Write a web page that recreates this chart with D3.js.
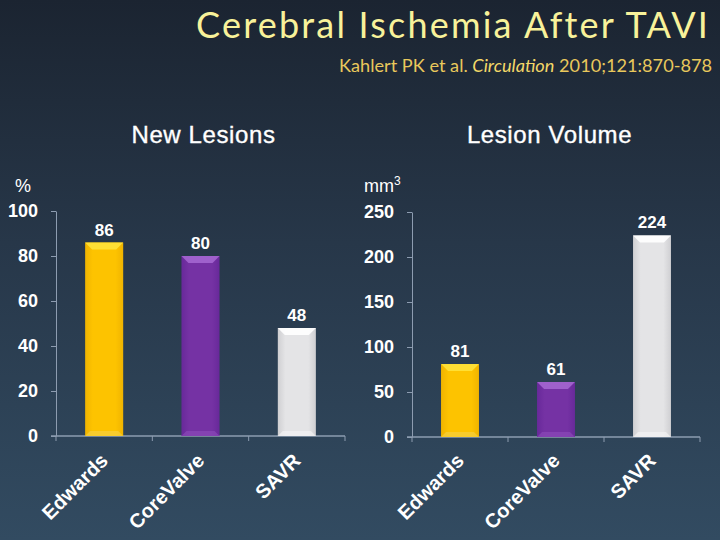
<!DOCTYPE html>
<html><head><meta charset="utf-8">
<script src="https://cdn.jsdelivr.net/npm/d3@7"></script>
<style>
html,body{margin:0;padding:0;background:#1c2532;}
svg{display:block;}
</style></head>
<body>
<svg id="chart" width="720" height="540"></svg>
<script>
// ---- data ----
const categories = ["Edwards", "CoreValve", "SAVR"];
const newLesions = [86, 80, 48];          // %
const lesionVolume = [81, 61, 224];       // mm3
const lesionTicks = [0, 20, 40, 60, 80, 100];
const volumeTicks = [0, 50, 100, 150, 200, 250];
const titleText = "Cerebral Ischemia After TAVI";
const panelTitles = ["New Lesions", "Lesion Volume"];

const svg = d3.select("#chart");
const defs = svg.append("defs");

// background
const bg = defs.append("linearGradient").attr("id","bg").attr("x1",0).attr("y1",0).attr("x2",0).attr("y2",1);
bg.append("stop").attr("offset","0%").attr("stop-color","#1b2431");
bg.append("stop").attr("offset","45%").attr("stop-color","#273749");
bg.append("stop").attr("offset","100%").attr("stop-color","#324b61");
svg.append("rect").attr("width",720).attr("height",540).attr("fill","url(#bg)");

// bar colour schemes
const barColors = [
  {id:"yel", main:"#fdc300", edge:"#f0b400", top:"#ffe23a", bot:"#f5d040"},
  {id:"pur", main:"#7532a4", edge:"#68299a", top:"#a466d0", bot:"#8a48b8"},
  {id:"sil", main:"#e4e4e6", edge:"#cfcfd2", top:"#ffffff", bot:"#f2f2f4"}
];
barColors.forEach(c=>{
  const g = defs.append("linearGradient").attr("id",c.id).attr("x1",0).attr("y1",0).attr("x2",1).attr("y2",0);
  g.append("stop").attr("offset","0%").attr("stop-color",c.edge);
  g.append("stop").attr("offset","20%").attr("stop-color",c.main);
  g.append("stop").attr("offset","80%").attr("stop-color",c.main);
  g.append("stop").attr("offset","100%").attr("stop-color",c.edge);
});

// title
const title = svg.append("text").attr("x",710).attr("y",38).attr("text-anchor","end")
  .attr("fill","#f8f29a").style("font-family","Lato, 'Open Sans', sans-serif").style("font-size","36px")
  .text(titleText);
{ const w = title.node().getComputedTextLength();
  title.style("letter-spacing", ((511-w)/(titleText.length-1)).toFixed(2)+"px"); }

const sub = svg.append("text").attr("x",712).attr("y",72).attr("text-anchor","end")
  .attr("fill","#e9c85c").style("font-family","Lato, 'Open Sans', sans-serif").style("font-size","17px");
sub.append("tspan").text("Kahlert PK et al. ");
sub.append("tspan").attr("font-style","italic").attr("fill","#f3d868").text("Circulation");
sub.append("tspan").text(" 2010;121:870-878");
{ const w = sub.node().getComputedTextLength(); sub.style("font-size", (17*373/w).toFixed(2)+"px"); }

const axisColor = "#8d9cb0";
const fontSans = "'Liberation Sans', Arial, sans-serif";

function panel(opts){
  const {values, ticks, domainMax, x0, x1, yTop, yZero, titleStr, titleX} = opts;
  const g = svg.append("g");
  const x = d3.scaleBand().domain(categories).range([x0, x1]).paddingInner(0.605).paddingOuter(0.3025);
  const y = d3.scaleLinear().domain([0, domainMax]).range([yZero, yTop]);

  // panel title
  g.append("text").attr("x",titleX).attr("y",143).attr("text-anchor","middle")
    .attr("fill","#fff").attr("stroke","#fff").attr("stroke-width",0.35)
    .style("font-family",fontSans).style("font-size","24px").style("letter-spacing","0.6px")
    .text(titleStr);

  // y axis
  const ya = g.append("g").attr("transform",`translate(${x0},0)`)
    .call(d3.axisLeft(y).tickValues(ticks).tickSize(5).tickPadding(13).tickSizeOuter(0));
  ya.select(".domain").attr("stroke",axisColor);
  ya.selectAll(".tick line").attr("stroke",axisColor);
  ya.selectAll(".tick text").attr("fill","#fff").style("font-family",fontSans)
    .style("font-size","18px").style("font-weight","bold");

  // x axis line with band-boundary ticks
  const per = (x1 - x0) / categories.length;
  const bounds = d3.range(categories.length+1).map(i => x0 + i*per);
  g.append("line").attr("x1",x0-5).attr("x2",x1).attr("y1",yZero).attr("y2",yZero)
    .attr("stroke",axisColor).attr("stroke-width",1.5);
  g.selectAll(".xt").data(bounds).enter().append("line")
    .attr("x1",d=>d).attr("x2",d=>d).attr("y1",yZero).attr("y2",yZero+5)
    .attr("stroke",axisColor);

  // bars
  const bw = x.bandwidth();
  const bars = g.selectAll(".bar").data(values).enter().append("g");
  bars.append("rect")
    .attr("x",(d,i)=>x(categories[i])).attr("y",d=>y(d))
    .attr("width",bw).attr("height",d=>yZero-y(d))
    .attr("fill",(d,i)=>`url(#${barColors[i].id})`);
  bars.append("path")
    .attr("d",(d,i)=>{const bx=x(categories[i]), by=y(d), b=7;
      return `M${bx},${by}L${bx+bw},${by}L${bx+bw-b},${by+b}L${bx+b},${by+b}Z`;})
    .attr("fill",(d,i)=>barColors[i].top).attr("opacity",0.9);
  bars.append("path")
    .attr("d",(d,i)=>{const bx=x(categories[i]), by=yZero, b=5;
      return `M${bx},${by}L${bx+bw},${by}L${bx+bw-b},${by-b}L${bx+b},${by-b}Z`;})
    .attr("fill",(d,i)=>barColors[i].bot).attr("opacity",0.7);

  // value labels
  g.selectAll(".val").data(values).enter().append("text")
    .attr("x",(d,i)=>x(categories[i])+bw/2).attr("y",d=>y(d)-7)
    .attr("text-anchor","middle").attr("fill","#fff")
    .style("font-family",fontSans).style("font-size","17px").style("font-weight","bold")
    .text(d=>d);

  // category labels (rotated)
  g.selectAll(".cat").data(categories).enter().append("text")
    .attr("transform",d=>`translate(${x(d)+bw/2+5},462) rotate(-45)`)
    .attr("text-anchor","end").attr("fill","#fff")
    .style("font-family",fontSans).style("font-size","20px").style("font-weight","bold")
    .text(d=>d);
  return g;
}

panel({values:newLesions, ticks:lesionTicks, domainMax:100, x0:56, x1:345, yTop:211, yZero:436,
  titleStr:panelTitles[0], titleX:203.5});
panel({values:lesionVolume, ticks:volumeTicks, domainMax:250, x0:412, x1:700, yTop:212, yZero:437,
  titleStr:panelTitles[1], titleX:549.5});

// unit labels
svg.append("text").attr("x",15).attr("y",192).attr("fill","#fff")
  .style("font-family",fontSans).style("font-size","18px").text("%");
const mm = svg.append("text").attr("x",364).attr("y",192).attr("fill","#fff")
  .style("font-family",fontSans).style("font-size","18px");
mm.append("tspan").text("mm");
mm.append("tspan").attr("dy",-7).style("font-size","12px").text("3");
</script>
</body></html>
